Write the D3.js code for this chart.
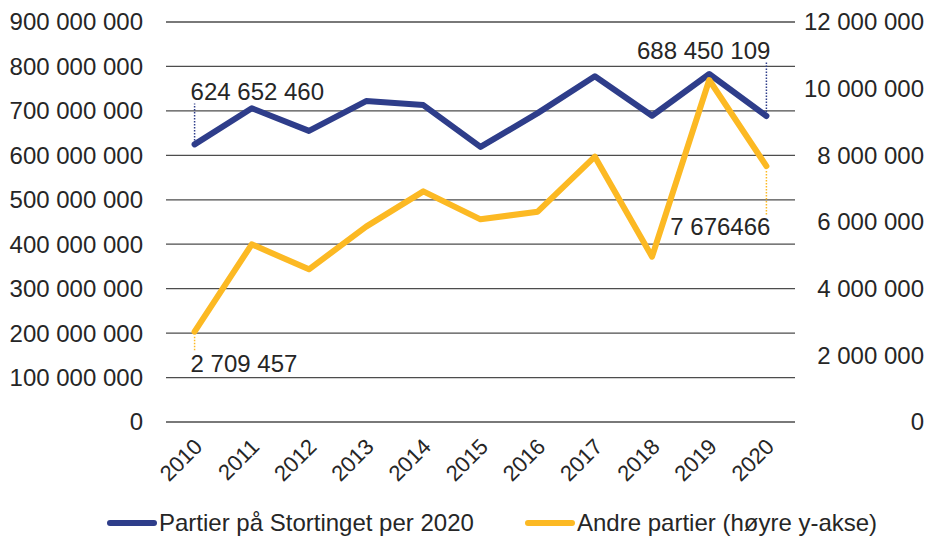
<!DOCTYPE html>
<html>
<head>
<meta charset="utf-8">
<script src="https://cdn.jsdelivr.net/npm/d3@7"></script>
<style>
  html, body { margin: 0; padding: 0; background: #fff; }
  svg { display: block; font-family: "Liberation Sans", Arial, sans-serif; }
</style>
</head>
<body>
<div id="chart"></div>
<script>
// data
const years = ['2010', '2011', '2012', '2013', '2014', '2015', '2016', '2017', '2018', '2019', '2020'];
const stortinget = [624652460, 706000000, 655000000, 722000000, 713000000, 619000000, 695000000, 778000000, 689000000, 783000000, 688450109];
const andre = [2709457, 5330000, 4580000, 5860000, 6920000, 6080000, 6310000, 7960000, 4960000, 10260000, 7676466];
const leftTicks = [0, 100e6, 200e6, 300e6, 400e6, 500e6, 600e6, 700e6, 800e6, 900e6];
const rightTicks = [0, 2e6, 4e6, 6e6, 8e6, 10e6, 12e6];
const seriesNames = ['Partier på Stortinget per 2020', 'Andre partier (høyre y-akse)'];

const W = 930, H = 538;
const blue = '#2e3d8a', yellow = '#fcb923', ink = '#262626';
const m = { left: 166, right: 135, top: 22, bottom: 116 };
const fs = 24;

const nf = d3.formatLocale({ thousands: '\u00a0', grouping: [3], decimal: ',', currency: ['', ''] }).format(',d');

const svg = d3.select('#chart').append('svg')
  .attr('width', W).attr('height', H);

const x = d3.scalePoint().domain(years).range([m.left, W - m.right]).padding(0.5);
const yL = d3.scaleLinear().domain([0, 900e6]).range([H - m.bottom, m.top]);
const yR = d3.scaleLinear().domain([0, 12e6]).range([H - m.bottom, m.top]);

// gridlines
svg.append('g').selectAll('line').data(leftTicks).join('line')
  .attr('x1', m.left).attr('x2', W - m.right)
  .attr('y1', d => yL(d)).attr('y2', d => yL(d))
  .attr('stroke', '#4d4d4d').attr('stroke-width', 1.3);

// left axis labels
svg.append('g').selectAll('text').data(leftTicks).join('text')
  .attr('x', 143).attr('y', d => yL(d)).attr('dy', '0.35em')
  .attr('text-anchor', 'end').attr('font-size', fs).attr('fill', ink)
  .text(d => nf(d));

// right axis labels
svg.append('g').selectAll('text').data(rightTicks).join('text')
  .attr('x', 924).attr('y', d => yR(d)).attr('dy', '0.35em')
  .attr('text-anchor', 'end').attr('font-size', fs).attr('fill', ink)
  .text(d => nf(d));

// x labels, rotated
svg.append('g').selectAll('text').data(years).join('text')
  .attr('text-anchor', 'end').attr('font-size', 22).attr('fill', ink)
  .attr('transform', d => `translate(${x(d) + 9},${H - m.bottom + 26}) rotate(-45)`)
  .text(d => d);

const lineL = d3.line().x((d, i) => x(years[i])).y(d => yL(d));
const lineR = d3.line().x((d, i) => x(years[i])).y(d => yR(d));

svg.append('path').datum(stortinget)
  .attr('d', lineL).attr('fill', 'none')
  .attr('stroke', blue).attr('stroke-width', 6)
  .attr('stroke-linejoin', 'round').attr('stroke-linecap', 'round');

svg.append('path').datum(andre)
  .attr('d', lineR).attr('fill', 'none')
  .attr('stroke', yellow).attr('stroke-width', 6)
  .attr('stroke-linejoin', 'round').attr('stroke-linecap', 'round');

// data labels with dotted leaders
const last = years.length - 1;
const labels = [
  { px: x(years[0]), py: yL(stortinget[0]), dy: -44, dx: -4, anchor: 'start', text: nf(stortinget[0]), color: blue },
  { px: x(years[last]), py: yL(stortinget[last]), dy: -57, dx: 4, anchor: 'end', text: nf(stortinget[last]), color: blue },
  { px: x(years[0]), py: yR(andre[0]), dy: 40, dx: -4, anchor: 'start', text: nf(andre[0]), color: yellow },
  { px: x(years[last]), py: yR(andre[last]), dy: 69, dx: 4, anchor: 'end', text: '7 676466', color: yellow }
];

labels.forEach(l => {
  const ty = l.py + l.dy;
  const up = l.dy < 0;
  svg.append('line')
    .attr('x1', l.px).attr('x2', l.px)
    .attr('y1', up ? l.py - 4 : l.py + 5)
    .attr('y2', up ? ty + 3 : ty - 20)
    .attr('stroke', l.color).attr('stroke-width', 1.5)
    .attr('stroke-dasharray', '1.5,1.5');
  svg.append('text')
    .attr('x', l.px + l.dx).attr('y', ty)
    .attr('text-anchor', l.anchor).attr('font-size', fs).attr('fill', ink)
    .text(l.text);
});

// legend
const legend = svg.append('g');
const legendItems = [
  { name: seriesNames[0], color: blue, x0: 107 },
  { name: seriesNames[1], color: yellow, x0: 525 }
];
legendItems.forEach(it => {
  legend.append('line')
    .attr('x1', it.x0 + 3).attr('x2', it.x0 + 47)
    .attr('y1', 523).attr('y2', 523)
    .attr('stroke', it.color).attr('stroke-width', 6).attr('stroke-linecap', 'round');
  legend.append('text')
    .attr('x', it.x0 + 52).attr('y', 523).attr('dy', '0.35em')
    .attr('font-size', fs).attr('fill', ink)
    .text(it.name);
});
</script>
</body>
</html>
